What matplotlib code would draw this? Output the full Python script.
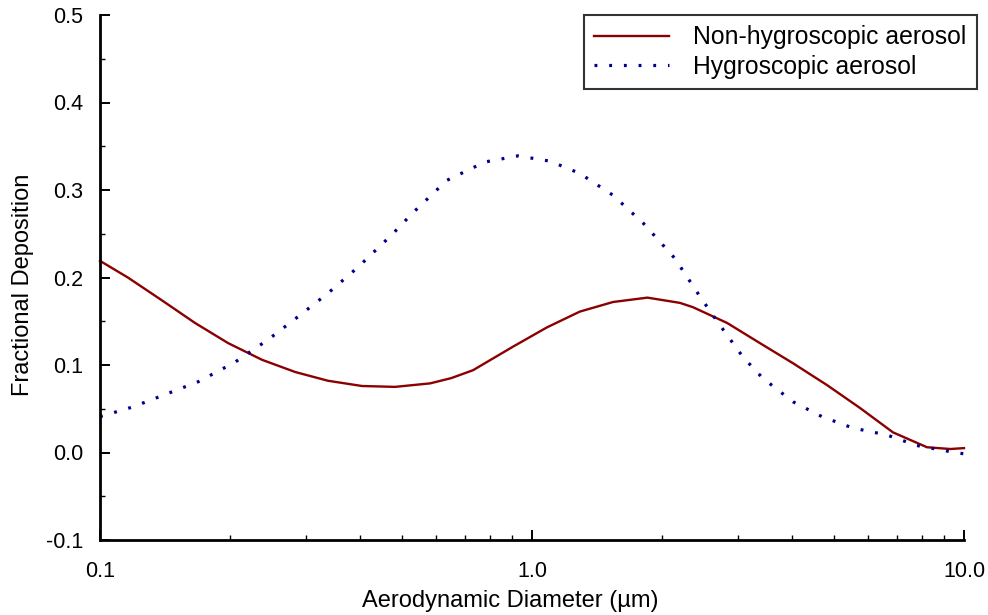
import numpy as np
import matplotlib
matplotlib.use("Agg")
import matplotlib.pyplot as plt
from matplotlib.ticker import FixedLocator, LogLocator, NullFormatter, MultipleLocator, FixedFormatter

plt.rcParams['font.family'] = ['Liberation Sans', 'DejaVu Sans']
plt.rcParams['axes.unicode_minus'] = False

# Non-hygroscopic aerosol
nh_d = [0.1, 0.116, 0.139, 0.166, 0.198, 0.237, 0.283, 0.337, 0.404, 0.482, 0.581,
        0.65, 0.730, 0.904, 1.083, 1.29, 1.54, 1.85, 2.20, 2.36, 2.83, 3.37, 4.02, 4.82,
        5.74, 6.85, 8.21, 9.3, 10.0]
nh_v = [0.219, 0.200, 0.174, 0.148, 0.125, 0.106, 0.092, 0.082, 0.076, 0.075, 0.079,
        0.085, 0.094, 0.121, 0.143, 0.161, 0.172, 0.177, 0.171, 0.166, 0.148, 0.125, 0.102,
        0.077, 0.051, 0.023, 0.006, 0.004, 0.005]

# Hygroscopic aerosol
h_d = [0.1, 0.119, 0.141, 0.169, 0.205, 0.245, 0.287, 0.337, 0.396, 0.474, 0.530,
       0.635, 0.778, 0.928, 1.10, 1.29, 1.54, 1.81, 2.14, 2.45, 2.70, 3.08, 3.42,
       4.02, 4.69, 5.53, 6.63, 7.78, 9.28, 10.44]
h_v = [0.041, 0.052, 0.066, 0.081, 0.103, 0.129, 0.155, 0.182, 0.212, 0.249, 0.274,
       0.311, 0.332, 0.339, 0.333, 0.319, 0.294, 0.262, 0.222, 0.178, 0.148, 0.109,
       0.085, 0.058, 0.041, 0.028, 0.020, 0.008, 0.001, -0.003]

x_ticks = [0.1, 1.0, 10.0]
x_labels = ["0.1", "1.0", "10.0"]
y_ticks = [-0.1, 0.0, 0.1, 0.2, 0.3, 0.4, 0.5]
y_labels = ["-0.1", "0.0", "0.1", "0.2", "0.3", "0.4", "0.5"]

fig = plt.figure(figsize=(9.88, 6.15), dpi=100)
ax = fig.add_axes([100/988, 75/615, 864/988, 525/615])

ax.plot(nh_d, nh_v, color='#8B0000', lw=1.7, label='Non-hygroscopic aerosol',
        solid_joinstyle='round', clip_on=False)
ax.plot(h_d, h_v, color='#00008B', lw=2.3, linestyle=(0, (0.9, 3.7)),
        dash_capstyle='butt', label='Hygroscopic aerosol', clip_on=False)

ax.set_xscale('log')
ax.set_xlim(0.1, 10.0)
ax.set_ylim(-0.1, 0.5)

ax.xaxis.set_major_locator(FixedLocator(x_ticks))
ax.xaxis.set_major_formatter(FixedFormatter(x_labels))
ax.xaxis.set_minor_locator(LogLocator(base=10, subs=np.arange(2, 10)))
ax.xaxis.set_minor_formatter(NullFormatter())
ax.yaxis.set_major_locator(FixedLocator(y_ticks))
ax.yaxis.set_major_formatter(FixedFormatter(y_labels))
ax.yaxis.set_minor_locator(MultipleLocator(0.05))

for s in ['top', 'right']:
    ax.spines[s].set_visible(False)
for s in ['left', 'bottom']:
    ax.spines[s].set_linewidth(2.0)
    ax.spines[s].set_color('black')

ax.tick_params(which='major', direction='in', length=7, width=1.4, labelsize=15.5, pad=12)
ax.tick_params(axis='x', which='major', pad=15)
ax.tick_params(which='minor', direction='in', length=3.5, width=1.0)

ax.set_xlabel('Aerodynamic Diameter (µm)', fontsize=17)
ax.set_ylabel('Fractional Deposition', fontsize=17)
ax.xaxis.set_label_coords(0.4745, -0.117, transform=ax.transAxes)
ax.yaxis.set_label_coords(-0.089, 0.486, transform=ax.transAxes)
ax.xaxis.label.set_va('center')
ax.yaxis.label.set_va('center')

leg = ax.legend(loc='upper left', bbox_to_anchor=(584/988, 1 - 15/615),
                bbox_transform=fig.transFigure, fontsize=17.8, frameon=True,
                fancybox=False, edgecolor='black', handlelength=3.0,
                handletextpad=1.0, borderpad=0.42, labelspacing=0.22,
                borderaxespad=0)
leg.get_frame().set_linewidth(1.5)

fig.savefig('out.png', dpi=100)
